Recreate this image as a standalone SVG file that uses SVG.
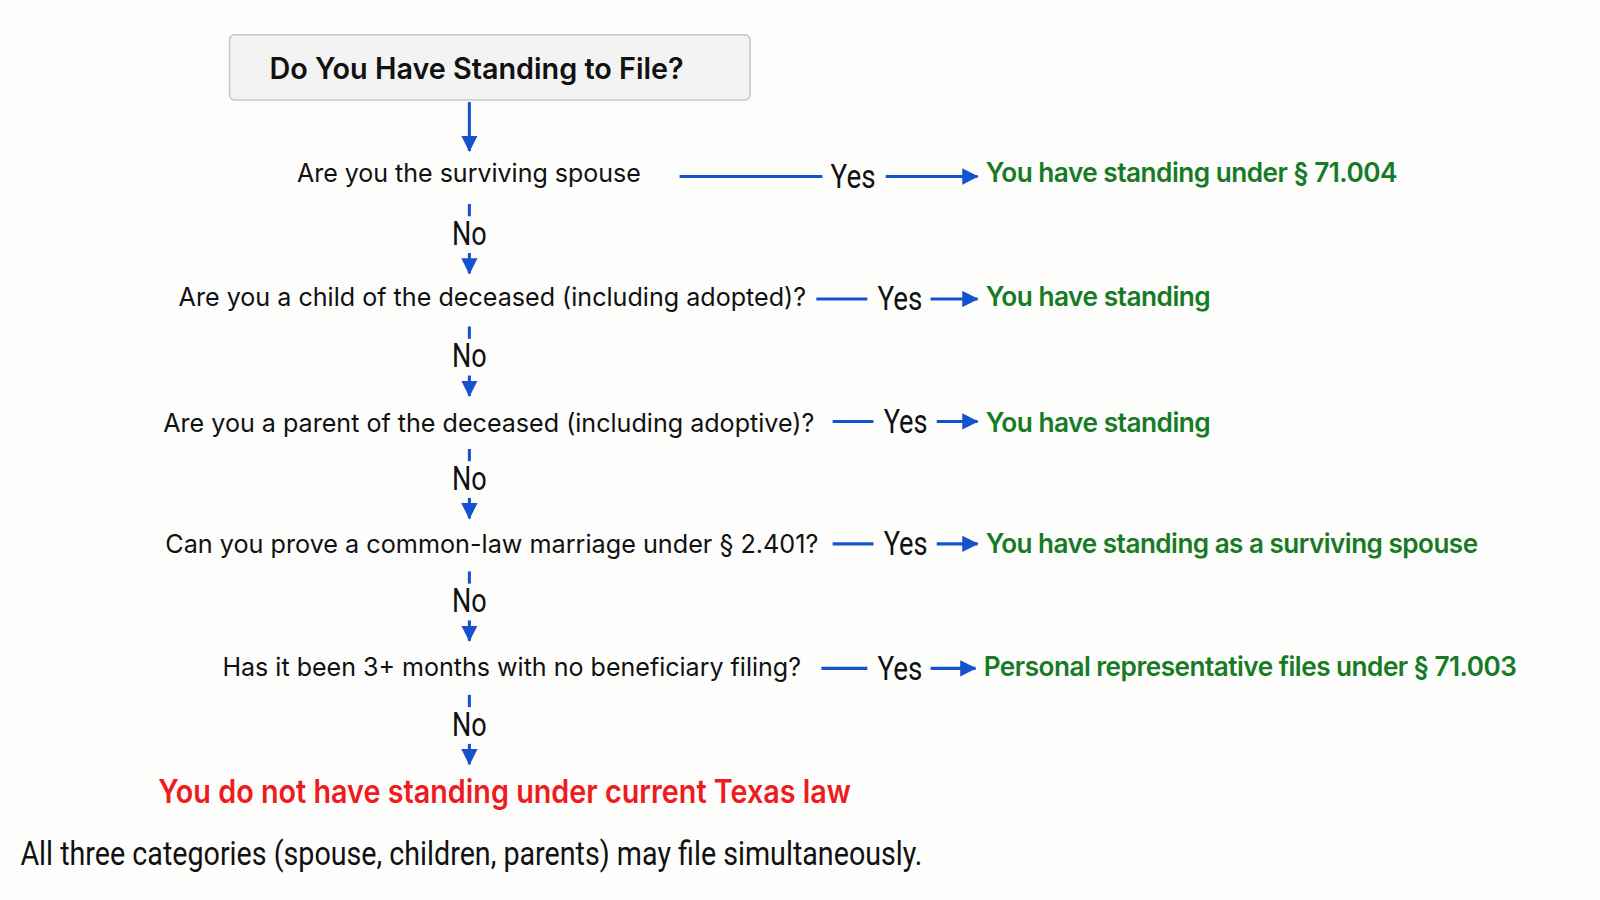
<svg xmlns="http://www.w3.org/2000/svg" width="1600" height="900" viewBox="0 0 1600 900">
<defs>
<marker id="ah" markerUnits="userSpaceOnUse" markerWidth="16" markerHeight="16" viewBox="0 0 16 16" refX="15" refY="8" orient="auto">
<path d="M0,0 L16,8 L0,16 Z" fill="#1652d0"/>
</marker>
<style>
.q{font-family:Inter,"Noto Sans",sans-serif;font-size:25px;fill:#111;}
.r{font-family:Inter,"Noto Sans",sans-serif;font-size:26px;font-weight:600;fill:#177a25;letter-spacing:-0.5px;}
.lbl{font-family:Roboto,"Liberation Sans",sans-serif;font-size:32px;fill:#111;}
.ln{stroke:#1652d0;stroke-width:3;fill:none;}
.ar{stroke:#1652d0;stroke-width:3;fill:none;marker-end:url(#ah);}
</style>
</defs>
<rect width="1600" height="900" fill="#fdfdfc"/>
<g transform="scale(1.0204)">
<g id="title">
<rect x="225" y="34" width="510" height="64" rx="5" fill="#f3f3f3" stroke="#c6c6c6" stroke-width="1.5"/>
<text x="264" y="77" font-family="Inter,'Noto Sans',sans-serif" font-size="29" font-weight="600" fill="#111" textLength="406" lengthAdjust="spacingAndGlyphs">Do You Have Standing to File?</text>
</g>
<g id="q1"><text class="q" x="291" y="178" textLength="337" lengthAdjust="spacingAndGlyphs">Are you the surviving spouse</text></g>
<g id="q2"><text class="q" x="175" y="300" textLength="615" lengthAdjust="spacingAndGlyphs">Are you a child of the deceased (including adopted)?</text></g>
<g id="q3"><text class="q" x="160" y="423" textLength="638" lengthAdjust="spacingAndGlyphs">Are you a parent of the deceased (including adoptive)?</text></g>
<g id="q4"><text class="q" x="162" y="542" textLength="640" lengthAdjust="spacingAndGlyphs">Can you prove a common-law marriage under § 2.401?</text></g>
<g id="q5"><text class="q" x="218" y="662" textLength="567" lengthAdjust="spacingAndGlyphs">Has it been 3+ months with no beneficiary filing?</text></g>
<g id="r1"><text class="r" x="966" y="178" textLength="403" lengthAdjust="spacingAndGlyphs">You have standing under § 71.004</text></g>
<g id="r2"><text class="r" x="966" y="300" textLength="220" lengthAdjust="spacingAndGlyphs">You have standing</text></g>
<g id="r3"><text class="r" x="966" y="423" textLength="220" lengthAdjust="spacingAndGlyphs">You have standing</text></g>
<g id="r4"><text class="r" x="966" y="542" textLength="482" lengthAdjust="spacingAndGlyphs">You have standing as a surviving spouse</text></g>
<g id="r5"><text class="r" x="964" y="662" textLength="522" lengthAdjust="spacingAndGlyphs">Personal representative files under § 71.003</text></g>
<g id="end"><text x="155" y="787" font-family="Inter,'Noto Sans',sans-serif" font-size="32" font-weight="600" fill="#ee1c1c" textLength="679" lengthAdjust="spacingAndGlyphs">You do not have standing under current Texas law</text></g>
<g id="note"><text x="20" y="848" font-family="Roboto,'Liberation Sans',sans-serif" font-size="33" fill="#111" textLength="884" lengthAdjust="spacingAndGlyphs">All three categories (spouse, children, parents) may file simultaneously.</text></g>
<g id="connectors">
<line class="ar" x1="460" y1="100" x2="460" y2="148"/>
<line class="ln" x1="666" y1="173" x2="806" y2="173"/>
<text class="lbl" x="814" y="184" textLength="44" lengthAdjust="spacingAndGlyphs">Yes</text>
<line class="ar" x1="868" y1="173" x2="958" y2="173"/>
<line class="ln" x1="800" y1="293" x2="850" y2="293"/>
<text class="lbl" x="860" y="304" textLength="44" lengthAdjust="spacingAndGlyphs">Yes</text>
<line class="ar" x1="912" y1="293" x2="958" y2="293"/>
<line class="ln" x1="816" y1="413" x2="856" y2="413"/>
<text class="lbl" x="866" y="424" textLength="43" lengthAdjust="spacingAndGlyphs">Yes</text>
<line class="ar" x1="918" y1="413" x2="958" y2="413"/>
<line class="ln" x1="816" y1="533" x2="856" y2="533"/>
<text class="lbl" x="866" y="544" textLength="43" lengthAdjust="spacingAndGlyphs">Yes</text>
<line class="ar" x1="918" y1="533" x2="958" y2="533"/>
<line class="ln" x1="805" y1="655" x2="850" y2="655"/>
<text class="lbl" x="860" y="666" textLength="44" lengthAdjust="spacingAndGlyphs">Yes</text>
<line class="ar" x1="912" y1="655" x2="956" y2="655"/>
<line class="ln" x1="460" y1="200" x2="460" y2="212"/>
<text class="lbl" x="443" y="240" textLength="34" lengthAdjust="spacingAndGlyphs">No</text>
<line class="ar" x1="460" y1="248" x2="460" y2="268"/>
<line class="ln" x1="460" y1="320" x2="460" y2="332"/>
<text class="lbl" x="443" y="360" textLength="34" lengthAdjust="spacingAndGlyphs">No</text>
<line class="ar" x1="460" y1="368" x2="460" y2="388"/>
<line class="ln" x1="460" y1="440" x2="460" y2="452"/>
<text class="lbl" x="443" y="480" textLength="34" lengthAdjust="spacingAndGlyphs">No</text>
<line class="ar" x1="460" y1="488" x2="460" y2="508"/>
<line class="ln" x1="460" y1="560" x2="460" y2="572"/>
<text class="lbl" x="443" y="600" textLength="34" lengthAdjust="spacingAndGlyphs">No</text>
<line class="ar" x1="460" y1="608" x2="460" y2="628"/>
<line class="ln" x1="460" y1="681" x2="460" y2="693"/>
<text class="lbl" x="443" y="721" textLength="34" lengthAdjust="spacingAndGlyphs">No</text>
<line class="ar" x1="460" y1="729" x2="460" y2="749"/>
</g>
</g>
</svg>
